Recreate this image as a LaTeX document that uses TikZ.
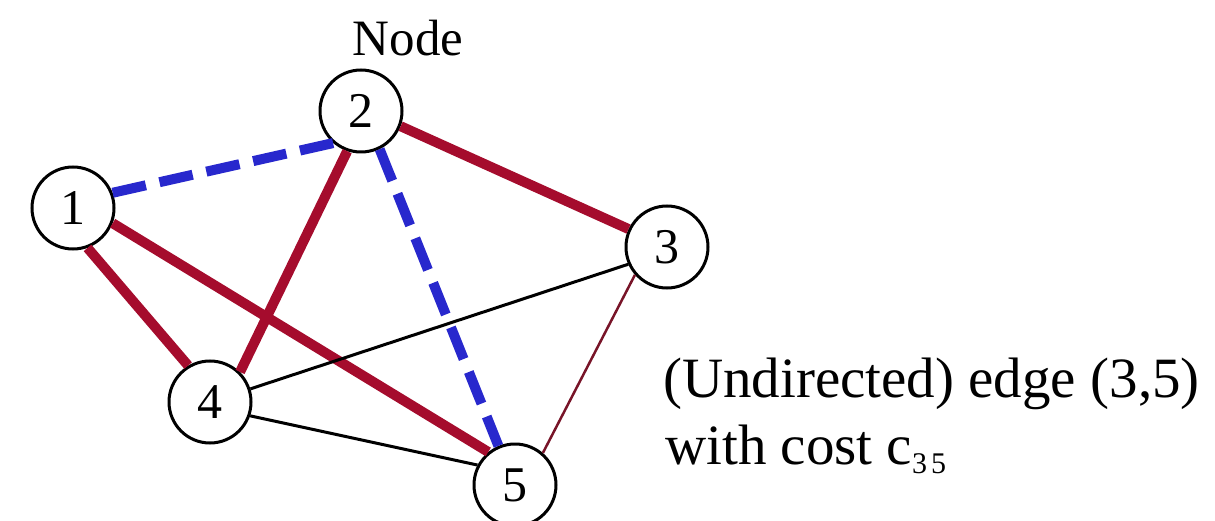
\documentclass[tikz,border=0pt]{standalone}
\usepackage{fontspec}
\setmainfont{Liberation Serif}
\definecolor{edgered}{RGB}{165,12,45}
\definecolor{edgeblue}{RGB}{40,40,205}
\definecolor{thinmaroon}{RGB}{120,20,40}
\begin{document}
\begin{tikzpicture}[x=1pt,y=-1pt,
  vertex/.style={circle,draw,line width=3pt,minimum size=82pt,inner sep=0pt,font=\fontsize{50}{50}\selectfont},
  redthick/.style={draw=edgered,line width=10pt},
  bluedash/.style={draw=edgeblue,line width=10pt,dash pattern=on 34pt off 14pt},
  thinblack/.style={draw=black,line width=3pt},
  thinred/.style={draw=thinmaroon,line width=2.5pt},
  label/.style={inner sep=0pt,font=\fontsize{57}{57}\selectfont}]
\useasboundingbox (0,0) rectangle (1215,521);
\clip (0,0) rectangle (1215,521);
\node[vertex] (n1) at (73,208) {1};
\node[vertex] (n2) at (361,111) {2};
\node[vertex] (n3) at (667,247) {3};
\node[vertex] (n4) at (210,402) {4};
\node[vertex] (n5) at (515,485) {5};
\node[label,font=\fontsize{51}{51}\selectfont] (nodelbl) at (408,38) {Node};
\node[label,anchor=base west] (e1) at (663,397) {(Undirected) edge (3,5)};
\node[label,anchor=base west] (e2) at (665,464) {with cost c\raisebox{-9pt}{\fontsize{30}{30}\selectfont 3\kern4pt 5}};
\draw[bluedash] (n1.21) -- (n2.229);
\draw[bluedash] (n2.296) -- (n5.113);
\draw[redthick] (n2.339) -- (n3.155);
\draw[redthick] (n1.290) -- (n4.121);
\draw[redthick] (n1.339) -- (n5.129);
\draw[redthick] (n2.251) -- (n4.45);
\draw[thinblack] (n4.18) -- (n3.204);
\draw[thinblack] (n4.341) -- (n5.152);
\draw[thinred] (n3.221) -- (n5.49);
\end{tikzpicture}
\end{document}
